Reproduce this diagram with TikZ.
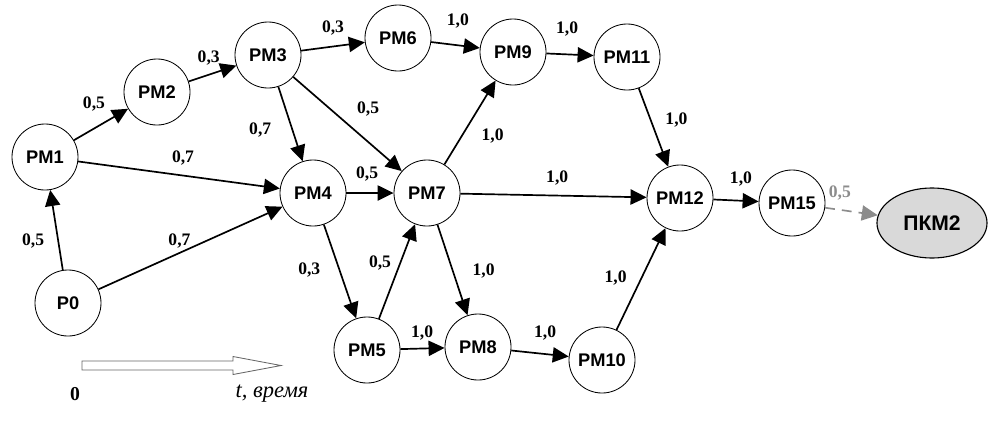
\documentclass[tikz,border=0pt]{standalone}
\usepackage{fontspec}
\setmainfont{Liberation Serif}
\setsansfont{Liberation Sans}
\usetikzlibrary{arrows.meta,shapes.geometric}

\tikzstyle{state} = [draw, circle, line width=0.6pt, minimum size=1.65cm, inner sep=0pt,
                     font=\sffamily\bfseries\fontsize{13}{15}\selectfont]
\tikzstyle{goal} = [draw, ellipse, line width=0.8pt, minimum width=2.75cm, minimum height=1.75cm,
                    font=\sffamily\bfseries\fontsize{15}{17}\selectfont]
\tikzstyle{wgt} = [font=\bfseries\fontsize{12.5}{14}\selectfont, inner sep=1pt]
\tikzstyle{link} = [->, line width=1.2pt]

\begin{document}
\begin{tikzpicture} [x=0.025cm, y=-0.025cm, >={Triangle[length=4mm,width=3.8mm]}]

\def\colL{black!45};
\def\fillG{black!15};

\useasboundingbox (0,0) rectangle (1004,422);

% states
\node[state] (P0)   at (68,303)  {P0};
\node[state] (PM1)  at (45,157)  {PM1};
\node[state] (PM2)  at (157,92)  {PM2};
\node[state] (PM3)  at (268,55)  {PM3};
\node[state] (PM4)  at (313,193) {PM4};
\node[state] (PM5)  at (367,350) {PM5};
\node[state] (PM6)  at (398,38)  {PM6};
\node[state] (PM7)  at (427,193) {PM7};
\node[state] (PM8)  at (478,347) {PM8};
\node[state] (PM9)  at (513,52)  {PM9};
\node[state] (PM10) at (602,360) {PM10};
\node[state] (PM11) at (627,57)  {PM11};
\node[state] (PM12) at (680,198) {PM12};
\node[state] (PM15) at (792,203) {PM15};

\node[goal,fill=\fillG] (PKM2) at (932,223) {ПКМ2};

% transitions
\draw[link] (P0) -- node[wgt,pos=0.36,left=8.5pt]{0,5} (PM1);
\draw[link] (P0) -- node[wgt,pos=0.44,above=1.5pt]{0,7} (PM4);
\draw[link] (PM1) -- node[wgt,pos=0.37,above=10.5pt]{0,5} (PM2);
\draw[link] (PM1) -- node[wgt,pos=0.52,above=6pt]{0,7} (PM4);
\draw[link] (PM2) -- node[wgt,pos=0.42,above=5pt]{0,3} (PM3);
\draw[link] (PM3) -- node[wgt,pos=0.50,above=6.5pt]{0,3} (PM6);
\draw[link] (PM3) -- node[wgt,pos=0.58,left=13.5pt]{0,7} (PM4);
\draw[link] (PM3) -- node[wgt,pos=0.69,above=16.5pt]{0,5} (PM7);
\draw[link] (PM4) -- node[wgt,pos=0.44,above=7pt]{0,5} (PM7);
\draw[link] (PM4) -- node[wgt,pos=0.48,left=12pt]{0,3} (PM5);
\draw[link] (PM5) -- node[wgt,pos=0.59,left=5pt]{0,5} (PM7);
\draw[link] (PM5) -- node[wgt,pos=0.49,above=4.5pt]{1,0} (PM8);
\draw[link] (PM7) -- node[wgt,pos=0.51,right=12.5pt]{1,0} (PM8);
\draw[link] (PM7) -- node[wgt,pos=0.34,right=12.5pt]{1,0} (PM9);
\draw[link] (PM7) -- node[wgt,pos=0.52,above=5.5pt]{1,0} (PM12);
\draw[link] (PM6) -- node[wgt,pos=0.55,above=10.5pt]{1,0} (PM9);
\draw[link] (PM9) -- node[wgt,pos=0.44,above=11pt]{1,0} (PM11);
\draw[link] (PM11) -- node[wgt,pos=0.40,right=9pt]{1,0} (PM12);
\draw[link] (PM8) -- node[wgt,pos=0.59,above=8.5pt]{1,0} (PM10);
\draw[link] (PM10) -- node[wgt,pos=0.51,left=9pt]{1,0} (PM12);
\draw[link] (PM12) -- node[wgt,pos=0.61,above=9pt]{1,0} (PM15);
\draw[link,\colL,dashed,dash pattern=on 7pt off 5pt]
     (PM15) -- node[wgt,pos=0.28,above=5.5pt]{0,5} (PKM2);

% time axis
\draw[black!60,fill=white,line width=0.6pt]
     (82,361) -- (233,361) -- (233,356.5) -- (281,365.5)
      -- (233,374.5) -- (233,370) -- (82,370) -- cycle;
\node[font=\bfseries\fontsize{14}{16}\selectfont] (t0) at (75,394) {0};
\node[font=\itshape\fontsize{16}{18}\selectfont] (tname) at (272,394) {t, время};

\end{tikzpicture}
\end{document}
